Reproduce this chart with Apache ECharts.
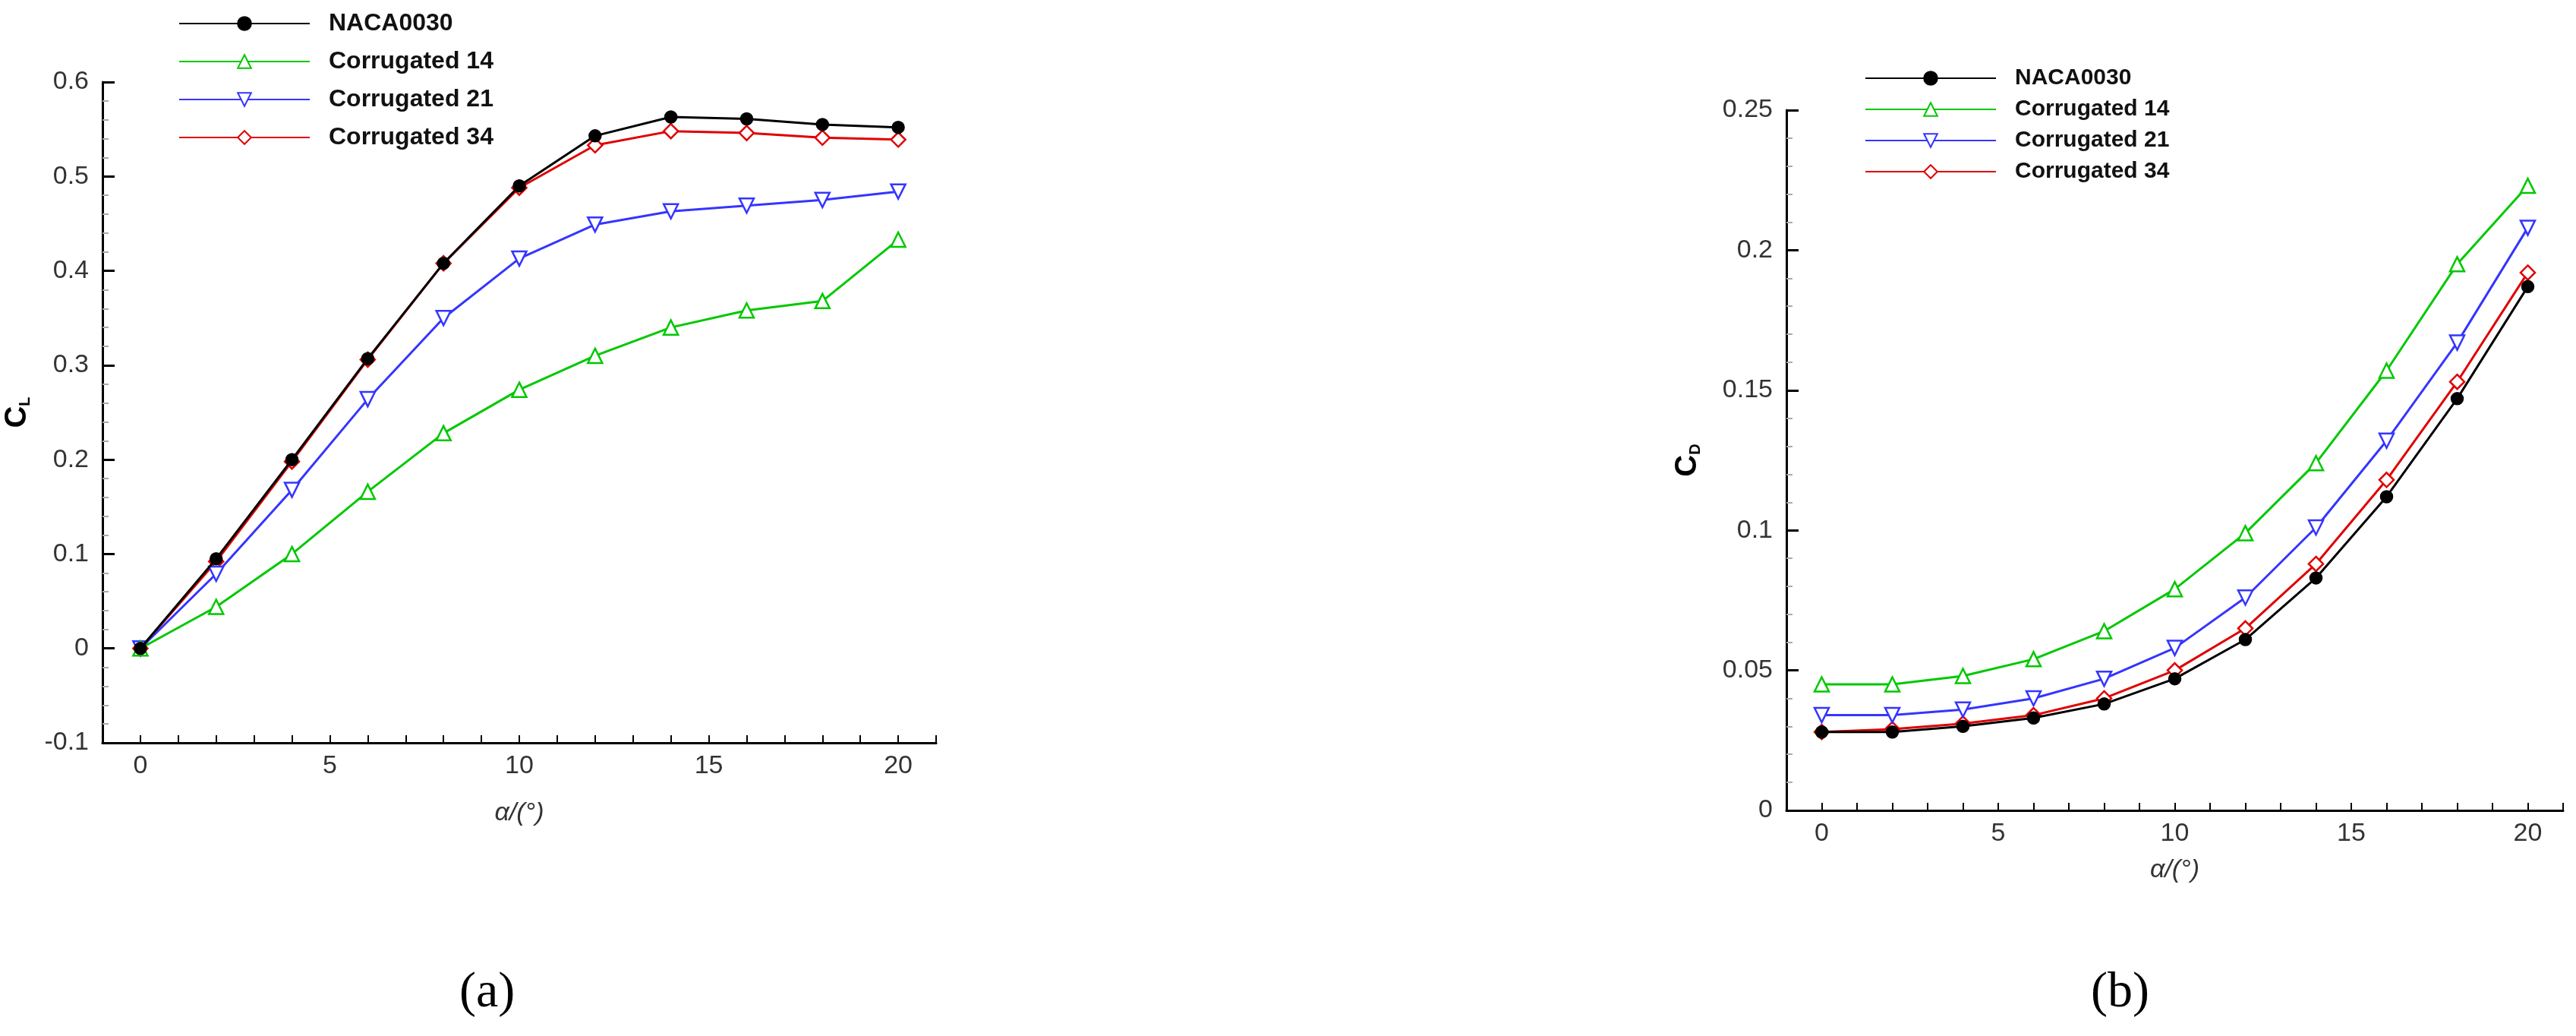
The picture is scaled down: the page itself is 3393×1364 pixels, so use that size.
<!DOCTYPE html>
<html><head><meta charset="utf-8">
<script src="https://cdn.jsdelivr.net/npm/echarts@6/dist/echarts.min.js"></script>
<style>html,body{margin:0;background:#fff}#c{width:3393px;height:1364px}</style>
</head><body><div id="c"></div>
<script>
const alpha = [0,2,4,6,8,10,12,14,16,18,20];
const names = ['NACA0030','Corrugated 14','Corrugated 21','Corrugated 34'];
const clNACA = [0,0.095,0.2,0.307,0.408,0.49,0.543,0.563,0.561,0.555,0.552];
const clC14  = [0,0.044,0.1,0.166,0.228,0.274,0.31,0.34,0.358,0.368,0.433];
const clC21  = [0,0.079,0.168,0.264,0.35,0.413,0.449,0.463,0.469,0.475,0.484];
const clC34  = [0,0.092,0.198,0.306,0.408,0.488,0.533,0.548,0.546,0.541,0.539];
const cdNACA = [0.028,0.028,0.030,0.033,0.038,0.047,0.061,0.083,0.112,0.147,0.187];
const cdC14  = [0.045,0.045,0.048,0.054,0.064,0.079,0.099,0.124,0.157,0.195,0.223];
const cdC21  = [0.034,0.034,0.036,0.040,0.047,0.058,0.076,0.101,0.132,0.167,0.208];
const cdC34  = [0.028,0.029,0.031,0.034,0.040,0.050,0.065,0.088,0.118,0.153,0.192];

const colors = ['#000000','#00c800','#3535ff','#e00000'];
const symbols = ['circle','triangle','triangle','diamond'];
const rot = [0,0,180,0];
const fills = ['#000000','#ffffff','#ffffff','#ffffff'];
const pair = (ys)=>alpha.map((a,i)=>[a,ys[i]]);

function mkSeries(sets, idx){
  return sets.map((ys,k)=>({
    name:names[k], type:'line', xAxisIndex:idx, yAxisIndex:idx,
    data:pair(ys), symbol:symbols[k], symbolRotate:rot[k],
    symbolSize:k===0?15:19, showAllSymbol:true,
    lineStyle:{color:colors[k], width:3},
    itemStyle:{color:fills[k], borderColor:colors[k], borderWidth:2.5},
    z: 10-k
  }));
}
const fontAx = 'Liberation Sans, Arial, sans-serif';
function xAx(idx,gap){
  return {type:'value', gridIndex:idx, min:-1, max:21, interval:1,
    splitLine:{show:false},
    axisLine:{onZero:false,lineStyle:{color:'#000',width:3}},
    axisTick:{inside:true,length:10,lineStyle:{color:'#000',width:2}},
    axisLabel:{color:'#333',fontSize:34,fontFamily:fontAx,margin:14,
      formatter:v=>(v>=0 && v%5===0)?String(v):''},
    name:'α/(°)', nameLocation:'middle', nameGap:gap,
    nameTextStyle:{fontSize:34,color:'#333',fontFamily:fontAx,fontStyle:'italic'}};
}
function yAx(idx,min,max,iv,sub){
  return {type:'value', gridIndex:idx, min:min, max:max, interval:iv,
    splitLine:{show:false},
    axisLine:{show:true,onZero:false,lineStyle:{color:'#000',width:3}},
    axisTick:{inside:true,length:16,lineStyle:{color:'#000',width:3}},
    minorTick:{show:true,splitNumber:5,length:8,lineStyle:{color:'#aaa',width:2}},
    axisLabel:{color:'#333',fontSize:34,fontFamily:fontAx,margin:18,
      formatter:v=>String(Math.round(v*1000)/1000)},
    name:'{c|C}{s|'+sub+'}', nameLocation:'middle', nameGap:idx===0?92:110, nameRotate:90,
    nameTextStyle:{rich:{c:{fontSize:40,fontWeight:'bold',color:'#000',fontFamily:fontAx},
      s:{fontSize:20,fontWeight:'bold',color:'#000',fontFamily:fontAx,verticalAlign:'bottom',padding:[14,0,0,0]}}}};
}
function legend(left,top,gap,fs){
  return {show:true, orient:'vertical', left:left, top:top, itemWidth:172, itemHeight:22, itemGap:gap,
    data:names, selectedMode:false,
    textStyle:{fontSize:fs,fontWeight:'bold',color:'#111',fontFamily:fontAx,padding:[0,0,0,20]}};
}
const chart = echarts.init(document.getElementById('c'));
chart.setOption({
  animation:false,
  grid:[{left:135,top:108,width:1098,height:870},{left:2353,top:145,width:1023,height:922}],
  xAxis:[xAx(0,76),xAx(1,62)],
  yAxis:[yAx(0,-0.1,0.6,0.1,'L'),yAx(1,0,0.25,0.05,'D')],
  legend:[legend(230,10,18,32),legend(2451,83,11,30)],
  series:[...mkSeries([clNACA,clC14,clC21,clC34],0),...mkSeries([cdNACA,cdC14,cdC21,cdC34],1)],
  graphic:[
    {type:'text',left:605,top:1275,style:{text:'(a)',fontSize:66,fontFamily:'Liberation Serif, serif',fill:'#000'}},
    {type:'text',left:2754,top:1275,style:{text:'(b)',fontSize:66,fontFamily:'Liberation Serif, serif',fill:'#000'}}
  ]
});
</script></body></html>
